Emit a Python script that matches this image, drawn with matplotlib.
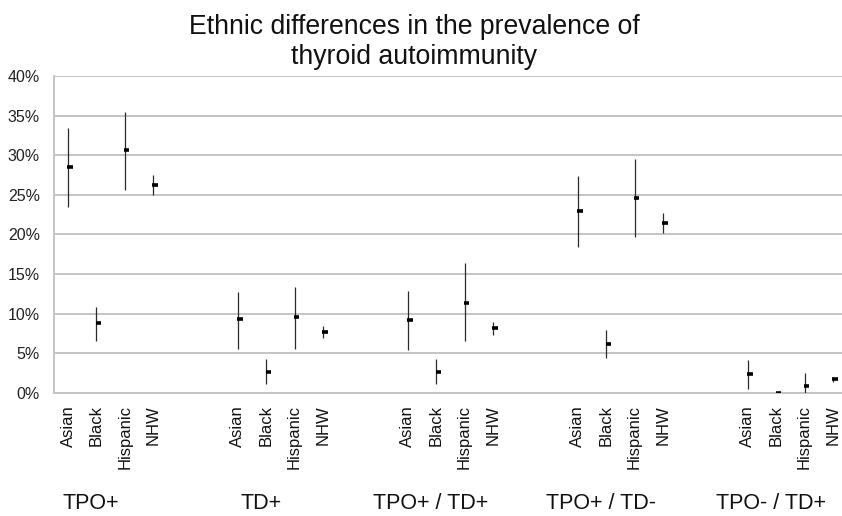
import matplotlib
matplotlib.use("Agg")
import matplotlib.pyplot as plt
import matplotlib.transforms as mtransforms

plt.rcParams['font.family'] = ['Liberation Sans', 'DejaVu Sans']

groups = ["TPO+", "TD+", "TPO+ / TD+", "TPO+ / TD-", "TPO- / TD+"]
ethnicities = ["Asian", "Black", "Hispanic", "NHW"]

# prevalence (%) per group, per ethnicity: high, low, point estimate
high = [
    [33.5, 10.9, 35.4, 27.5],
    [12.8, 4.25, 13.4, 8.4],
    [12.9, 4.25, 16.35, 8.9],
    [27.4, 7.95, 29.5, 22.65],
    [4.15, 0.0, 2.5, 2.05],
]
low = [
    [23.5, 6.5, 25.6, 25.0],
    [5.6, 1.1, 5.6, 7.0],
    [5.4, 1.1, 6.5, 7.3],
    [18.45, 4.4, 19.7, 20.25],
    [0.45, 0.0, 0.0, 1.4],
]
estimate = [
    [28.5, 8.8, 30.6, 26.2],
    [9.3, 2.65, 9.6, 7.7],
    [9.2, 2.7, 11.4, 8.2],
    [23.0, 6.2, 24.6, 21.5],
    [2.35, 0.0, 0.9, 1.75],
]
yticks = [0, 5, 10, 15, 20, 25, 30, 35, 40]
title = "Ethnic differences in the prevalence of\nthyroid autoimmunity"

fig = plt.figure(figsize=(8.42, 5.16), dpi=100)
ax = fig.add_axes([0.0639, 0.2384, 1.006 - 0.0639, 0.6143])

xs, hs, ls, es, labels = [], [], [], [], []
for g in range(len(groups)):
    for e in range(len(ethnicities)):
        xs.append(6 * g + e)
        hs.append(high[g][e])
        ls.append(low[g][e])
        es.append(estimate[g][e])
        labels.append(ethnicities[e])

ax.vlines(xs, ls, hs, color='#2a2a2a', linewidth=0.9, zorder=3)
ax.hlines(es, [x - 0.02 for x in xs], [x + 0.17 for x in xs],
          color='black', linewidth=2.6, zorder=4)

ax.set_xlim(-0.5, 27.5)
ax.set_ylim(0, 40)
ax.set_yticks(yticks)
ax.set_yticklabels([f"{v}%" for v in yticks], fontsize=11.5, color='#222222')
ax.set_xticks(xs)
ax.set_xticklabels(labels, rotation=90, fontsize=12, color='#111111')
ax.tick_params(axis='both', length=0)
ax.tick_params(axis='y', pad=10)
ax.tick_params(axis='x', pad=9)

ax.yaxis.grid(True, color='#c4c4c4', linewidth=1.4)
ax.set_axisbelow(True)
for s in ['top', 'right']:
    ax.spines[s].set_visible(False)
ax.spines['left'].set_color('#c4c4c4')
ax.spines['left'].set_linewidth(1.4)
ax.spines['bottom'].set_color('#c4c4c4')
ax.spines['bottom'].set_linewidth(1.4)

trans = mtransforms.blended_transform_factory(ax.transData, fig.transFigure)
for g, name in enumerate(groups):
    ax.text(6 * g + 0.8, 0.0136, name, transform=trans, ha='center',
            va='baseline', fontsize=15.5, color='#111111', clip_on=False)

fig.text(0.492, 0.972, title, ha='center', va='top', fontsize=19.2,
         color='#111111', linespacing=1.2)

fig.savefig("out.png", dpi=100)
